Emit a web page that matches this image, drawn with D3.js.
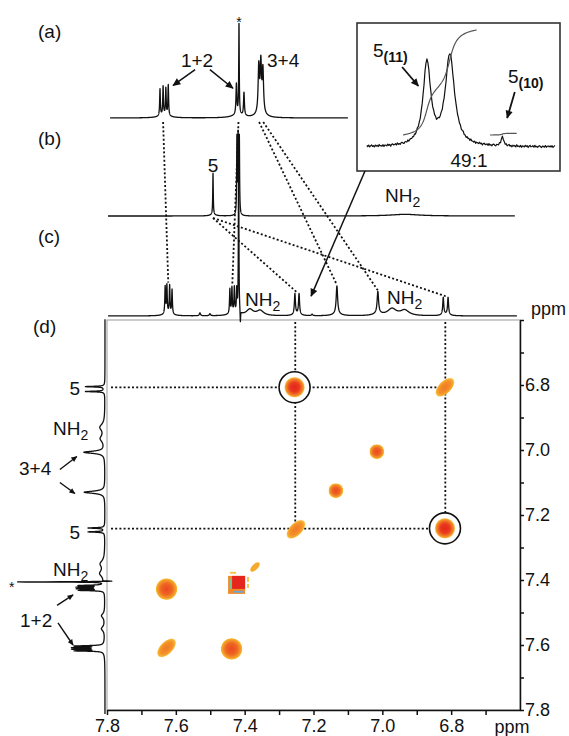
<!DOCTYPE html>
<html>
<head>
<meta charset="utf-8">
<script src="https://cdn.jsdelivr.net/npm/d3@7"></script>
<style>
body { margin: 0; background: #fff; }
svg { display: block; font-family: "Liberation Sans", Arial, sans-serif; }
</style>
</head>
<body>
<svg id="chart" width="569" height="736"></svg>
<script>
// ---- data ----
// 1D peak lists: [ppm, height (0-100 of the panel scale), half width in ppm]
var specA = [
  [7.646, 29, 0.0012], [7.637, 31, 0.0012], [7.629, 29, 0.0012], [7.622, 33, 0.0012], [7.633, 2.5, 0.02],
  [7.424, 33, 0.0015], [7.4165, 98, 0.0009], [7.402, 25, 0.0015], [7.42, 3, 0.02],
  [7.359, 50, 0.0022], [7.353, 52, 0.0022], [7.347, 46, 0.0022], [7.353, 4, 0.015]
];
var specB = [
  [7.492, 50, 0.0009], [7.492, 1.5, 0.01],
  [7.4155, 92, 0.0009], [7.419, 92, 0.0009], [7.4225, 92, 0.0009],
  [6.934, 2, 0.05]
];
var specC = [
  [7.631, 15, 0.0012], [7.626, 15.5, 0.0012], [7.618, 15.5, 0.0012], [7.611, 13.5, 0.0012], [7.622, 1.2, 0.015],
  [7.530, 1.6, 0.002], [7.501, 1.1, 0.002],
  [7.443, 13.5, 0.0012], [7.437, 14, 0.0012], [7.430, 14, 0.0012], [7.423, 13, 0.0012], [7.433, 1.2, 0.015],
  [7.4175, 100, 0.0008], [7.4125, -7, 0.0008],
  [7.385, 3.4, 0.012], [7.355, 2.8, 0.012],
  [7.254, 11.5, 0.0018], [7.242, 11.5, 0.0018], [7.248, 0.8, 0.012],
  [7.204, 0.8, 0.002],
  [7.132, 15.5, 0.0025], [7.132, 1, 0.015],
  [7.013, 12, 0.0025], [7.013, 1, 0.015],
  [6.972, 3.8, 0.015], [6.935, 3, 0.015],
  [6.823, 9.5, 0.0018], [6.809, 9.5, 0.0018], [6.816, 0.8, 0.012]
];
// f1 projection on the left of the 2D map
var specD = [
  [6.805, 20, 0.0012], [6.82, 20, 0.0012], [6.812, 1, 0.01],
  [6.93, 5, 0.012], [6.965, 4.5, 0.012],
  [7.007, 22, 0.004],
  [7.13, 22, 0.004],
  [7.240, 17, 0.0012], [7.252, 17, 0.0012], [7.246, 1, 0.01],
  [7.35, 4.5, 0.012], [7.38, 5, 0.012],
  [7.406, 92, 0.0006], [7.4035, -14, 0.0006],
  [7.417, 26, 0.0012], [7.422, 27, 0.0012], [7.427, 27, 0.0012], [7.432, 26, 0.0012],
  [7.51, 3.5, 0.008], [7.55, 3.5, 0.008],
  [7.603, 29, 0.0012], [7.608, 30, 0.0012], [7.613, 30, 0.0012], [7.618, 29, 0.0012], [7.61, 2, 0.015]
];
var rangeA = [7.791, 7.100];
var rangeB = [7.797, 6.615];
var rangeC = [7.797, 6.609];
var rangeD = [6.598, 7.812];

// inset (expanded region, ratio 49:1)
var insetPeaks = [[7.252, 83, 0.0048], [7.228, 91, 0.0058], [7.173, 9, 0.0016]];
var insetRange = [7.315, 7.118];
var insetNoise = [0.6, -0.4, 0.9, -0.8, 0.2, 1.1, -0.5, 0.3, -1.0, 0.7, -0.2, 0.5, -0.9, 1.2, -0.3, 0.1,
  -0.7, 0.8, -1.1, 0.4, 0.0, -0.6, 1.0, -0.2, 0.6, -1.2, 0.3, 0.9, -0.4, -0.1, 0.7, -0.8,
  1.1, -0.5, 0.2, -0.9, 0.5, 0.8, -0.3, -1.0, 0.4, 0.1, -0.6, 1.0, -0.7, 0.3, 0.6, -0.2];
var integralMain = [7.277, 7.200];
var integralMinor = [7.186, 7.158];

// links between spectra: [from panel, from ppm, to ppm in (c)]
var links = [
  ["a", 7.637, 7.622], ["a", 7.418, 7.436], ["a", 7.358, 7.132], ["a", 7.346, 7.013],
  ["b", 7.492, 7.248], ["b", 7.492, 6.816]
];

// 2D peaks [f2 ppm, f1 ppm]
var crossPeaks = [[7.255, 6.807], [6.818, 7.241], [7.627, 7.428], [7.438, 7.612]];
var diagPeaks = [
  [6.818, 6.807, "elong"], [7.016, 7.005, "square"], [7.135, 7.125, "square"],
  [7.251, 7.244, "elong"], [7.370, 7.360, "small"], [7.422, 7.412, "sat"], [7.627, 7.609, "elong"]
];
var circled = [[7.255, 6.807], [6.818, 7.241]];
var guideF2 = [7.253, 6.817];
var guideF1 = [6.807, 7.242];

var xTicks = [7.8, 7.7, 7.6, 7.5, 7.4, 7.3, 7.2, 7.1, 7.0, 6.9, 6.8, 6.7];
var yTicks = [6.6, 6.7, 6.8, 6.9, 7.0, 7.1, 7.2, 7.3, 7.4, 7.5, 7.6, 7.7, 7.8];
var tickLabels = ["7.8", "7.6", "7.4", "7.2", "7.0", "6.8"];

// ---- scales ----
var x = d3.scaleLinear().domain([7.8, 6.6]).range([107, 520]);
var y = d3.scaleLinear().domain([6.6, 7.8]).range([320, 710]);
var yA = d3.scaleLinear().domain([0, 100]).range([118, 25]);
var yB = d3.scaleLinear().domain([0, 100]).range([216, 133]);
var yC = d3.scaleLinear().domain([0, 100]).range([316, 135]);
var xD = d3.scaleLinear().domain([0, 100]).range([105, 11]);
var xI = d3.scaleLinear().domain([7.32, 7.12]).range([362, 553]);
var yI = d3.scaleLinear().domain([0, 100]).range([147, 47]);

function lorentz(peaks, d) {
  var s = 0;
  peaks.forEach(function(p) { var u = (d - p[0]) / p[2]; s += p[1] / (1 + u * u); });
  return s;
}
function trace(peaks, r, step) {
  var lo = Math.min(r[0], r[1]), hi = Math.max(r[0], r[1]);
  var n = Math.round((hi - lo) / step), pts = [];
  for (var i = 0; i <= n; i++) { var d = hi - i * (hi - lo) / n; pts.push([d, lorentz(peaks, d)]); }
  return pts;
}
function topNear(pts, ppm, win) {
  return d3.max(pts.filter(function(p) { return Math.abs(p[0] - ppm) < win; }), function(p) { return p[1]; });
}

var svg = d3.select("#chart");
var defs = svg.append("defs");
function grad(id, stops) {
  var gr = defs.append("radialGradient").attr("id", id);
  stops.forEach(function(s) {
    gr.append("stop").attr("offset", s[0]).attr("stop-color", s[1]).attr("stop-opacity", s[2] == null ? 1 : s[2]);
  });
}
grad("hot", [[0, "#e4261b"], [0.45, "#e93a1e"], [0.72, "#f07525"], [0.88, "#f5a22c"], [1, "#fbd25a", 0.25]]);
grad("warm", [[0, "#ea4a20"], [0.5, "#ee6423"], [0.8, "#f39729"], [0.93, "#f7b533"], [1, "#fcd96a", 0.25]]);
grad("soft", [[0, "#f17a26"], [0.6, "#f38f29"], [0.88, "#f7b233"], [1, "#fbd35c", 0.25]]);
function marker(id, w, h) {
  defs.append("marker").attr("id", id).attr("viewBox", "0 0 10 10").attr("refX", 9).attr("refY", 5)
    .attr("markerWidth", w).attr("markerHeight", h).attr("markerUnits", "userSpaceOnUse").attr("orient", "auto")
    .append("path").attr("d", "M0,0.5 L10,5 L0,9.5 Z").attr("fill", "#111");
}
marker("ah", 9, 8);
marker("ahs", 7, 6);

function arrow(p0, p1, w, small) {
  svg.append("line").attr("x1", p0[0]).attr("y1", p0[1]).attr("x2", p1[0]).attr("y2", p1[1])
    .attr("stroke", "#111").attr("stroke-width", w || 1.5).attr("marker-end", small ? "url(#ahs)" : "url(#ah)");
}
function label(px, py, main, sub, opt) {
  opt = opt || {};
  var t = svg.append("text").attr("x", px).attr("y", py).attr("font-size", opt.size || 19)
    .attr("fill", "#111").attr("text-anchor", opt.anchor || "start").text(main);
  if (sub) t.append("tspan").attr("dy", opt.subDy || 5).attr("font-size", opt.subSize || 14)
    .attr("font-weight", opt.bold ? "bold" : null).text(sub);
  return t;
}
var lineStyle = function(sel, w) { return sel.attr("fill", "none").attr("stroke", "#111").attr("stroke-width", w || 1.3).attr("stroke-linejoin", "round"); };

// ---- 2D map ----
svg.append("rect").attr("x", x(7.8)).attr("y", y(6.6)).attr("width", x(6.6) - x(7.8)).attr("height", y(7.8) - y(6.6))
  .attr("fill", "none").attr("stroke", "#9a9a9a").attr("stroke-width", 1);

var dots = { "stroke": "#111", "stroke-width": 1.8, "stroke-dasharray": "2,2.2" };
function dotted(x1, y1, x2, y2) {
  var l = svg.append("line").attr("x1", x1).attr("y1", y1).attr("x2", x2).attr("y2", y2);
  Object.keys(dots).forEach(function(k) { l.attr(k, dots[k]); });
}
guideF2.forEach(function(p) { dotted(x(p), y(6.6) + 2, x(p), y(guideF1[1])); });
guideF1.forEach(function(p) { dotted(x(7.8) + 4, y(p), x(guideF2[1]), y(p)); });

svg.selectAll(".ring").data(circled).enter().append("circle").attr("class", "ring")
  .attr("cx", function(d) { return x(d[0]); }).attr("cy", function(d) { return y(d[1]); })
  .attr("r", 15.5).attr("fill", "#fff").attr("stroke", "#111").attr("stroke-width", 1.6);

svg.selectAll(".xpk").data(crossPeaks).enter().append("circle").attr("class", "xpk")
  .attr("cx", function(d) { return x(d[0]); }).attr("cy", function(d) { return y(d[1]); })
  .attr("r", function(d, i) { return i < 2 ? 10.5 : 11; })
  .attr("fill", function(d, i) { return i < 2 ? "url(#hot)" : "url(#warm)"; });

diagPeaks.forEach(function(d) {
  var cx = x(d[0]), cy = y(d[1]);
  if (d[2] === "elong") {
    svg.append("ellipse").attr("cx", cx).attr("cy", cy).attr("rx", 12).attr("ry", 6.5)
      .attr("transform", "rotate(-45," + cx + "," + cy + ")").attr("fill", "url(#soft)");
  } else if (d[2] === "square") {
    svg.append("rect").attr("x", cx - 7.5).attr("y", cy - 7.5).attr("width", 15).attr("height", 15).attr("rx", 5)
      .attr("fill", "url(#warm)");
  } else if (d[2] === "small") {
    svg.append("ellipse").attr("cx", cx).attr("cy", cy).attr("rx", 6).attr("ry", 2.8)
      .attr("transform", "rotate(-45," + cx + "," + cy + ")").attr("fill", "#f6aa2c");
  } else {
    svg.append("rect").attr("x", cx - 9).attr("y", cy - 8).attr("width", 17).attr("height", 18).attr("fill", "#f08a2a");
    svg.append("rect").attr("x", cx - 5).attr("y", cy - 8).attr("width", 13).attr("height", 13).attr("fill", "#e4261c");
    svg.append("rect").attr("x", cx - 7.5).attr("y", cy - 5).attr("width", 2).attr("height", 10).attr("fill", "#7cc492");
    svg.append("rect").attr("x", cx - 4).attr("y", cy + 7).attr("width", 10).attr("height", 1.8).attr("fill", "#6aa8da");
    svg.append("rect").attr("x", cx - 7).attr("y", cy - 12).attr("width", 6).attr("height", 1.8).attr("fill", "#f7c13a");
    svg.append("rect").attr("x", cx + 10).attr("y", cy - 7).attr("width", 1.8).attr("height", 5).attr("fill", "#f7c13a");
    svg.append("rect").attr("x", cx + 10).attr("y", cy).attr("width", 1.8).attr("height", 4).attr("fill", "#f7c13a");
  }
});

// axes
function tickFmt(d) { var s = d3.format(".1f")(d); return tickLabels.indexOf(s) >= 0 ? s : ""; }
var gx = svg.append("g").attr("transform", "translate(0," + y(7.8) + ")")
  .call(d3.axisBottom(x).tickValues(xTicks).tickSize(5).tickSizeOuter(0).tickPadding(4).tickFormat(tickFmt));
var gy = svg.append("g").attr("transform", "translate(" + x(6.6) + ",0)")
  .call(d3.axisRight(y).tickValues(yTicks).tickSize(4).tickSizeOuter(0).tickPadding(1).tickFormat(tickFmt));
[gx, gy].forEach(function(g) {
  g.attr("font-family", null).attr("font-size", 18);
  g.selectAll("path,line").attr("stroke", "#111").attr("stroke-width", 1.5);
  g.selectAll("text").attr("fill", "#111");
});
label(512, 733, "ppm", null, { anchor: "middle", size: 18 });
label(531, 315, "ppm", null, { size: 18 });

// ---- 1D spectra ----
var ptsA = trace(specA, rangeA, 0.0002);
var ptsB = trace(specB, rangeB, 0.0002);
var ptsC = trace(specC, rangeC, 0.0002);
var ptsD = trace(specD, rangeD, 0.0002);

// dotted links first so the traces sit on top
links.forEach(function(l) {
  var y0 = l[0] === "a" ? yA(0) + 4 : yB(0) + 2;
  dotted(x(l[1]), y0, x(l[2]), yC(topNear(ptsC, l[2], 0.009)) - 1);
});

lineStyle(svg.append("path").datum(ptsA).attr("d", d3.line().x(function(d) { return x(d[0]); }).y(function(d) { return yA(d[1]); })));
lineStyle(svg.append("path").datum(ptsB).attr("d", d3.line().x(function(d) { return x(d[0]); }).y(function(d) { return yB(d[1]); })));
lineStyle(svg.append("path").datum(ptsC).attr("d", d3.line().x(function(d) { return x(d[0]); }).y(function(d) { return yC(d[1]); })));
lineStyle(svg.append("path").datum(ptsD).attr("d", d3.line().x(function(d) { return xD(d[1]); }).y(function(d) { return y(d[0]); })));

// ---- inset ----
svg.append("rect").attr("x", 357).attr("y", 23).attr("width", 203).attr("height", 148)
  .attr("fill", "#fff").attr("stroke", "#333").attr("stroke-width", 1.6);
var ptsI = trace(insetPeaks, insetRange, 0.001).map(function(p, i) { return [p[0], p[1] + insetNoise[i % insetNoise.length]]; });
lineStyle(svg.append("path").datum(ptsI).attr("d", d3.line().x(function(d) { return xI(d[0]); }).y(function(d) { return yI(d[1]); })), 1.2);

function cumulative(peaks, r, step) {
  var pts = trace(peaks, r, step), s = 0;
  return pts.map(function(p) { s += p[1] * step; return [p[0], s]; });
}
var cumMain = cumulative(insetPeaks.slice(0, 2), integralMain, 0.0005);
var norm = 105 / cumMain[cumMain.length - 1][1];
var cumMinor = cumulative(insetPeaks.slice(2), integralMinor, 0.0005);
var intLine = d3.line().x(function(d) { return xI(d[0]); }).y(function(d) { return yI(12 + d[1] * norm); });
svg.append("path").datum(cumMain).attr("d", intLine).attr("fill", "none").attr("stroke", "#555").attr("stroke-width", 1.2);
svg.append("path").datum(cumMinor).attr("d", intLine).attr("fill", "none").attr("stroke", "#555").attr("stroke-width", 1.2);

label(373, 57, "5", "(11)", { bold: true });
arrow([xI(7.278), yI(80)], [xI(7.261), yI(61)], 1.8);
label(508, 83, "5", "(10)", { bold: true });
arrow([xI(7.160), yI(55)], [xI(7.168), yI(29)], 1.8);
label(469, 167, "49:1", null, { anchor: "middle" });

// arrow from inset down to trace (c)
arrow([365, 171], [x(7.207), yC(11)], 1.5);

// ---- labels ----
label(38, 38, "(a)");
label(38, 145, "(b)");
label(38, 243, "(c)");
label(33, 333, "(d)");

label(239, 27, "*", null, { anchor: "middle", size: 14 });
label(197, 67, "1+2", null, { anchor: "middle" });
arrow([x(7.544), yA(52)], [x(7.608), yA(35)]);
arrow([x(7.501), yA(52)], [x(7.434), yA(32)]);
label(267, 67, "3+4");

label(x(7.492), 172, "5", null, { anchor: "middle" });
label(385, 202, "NH", "2");
label(245, 306, "NH", "2");
label(387, 304, "NH", "2");

label(80, 395, "5", null, { anchor: "end" });
label(53, 435, "NH", "2");
label(19, 475, "3+4");
arrow([xD(48), y(7.060)], [xD(30), y(7.020)], 1.4, true);
arrow([xD(48), y(7.100)], [xD(32), y(7.134)], 1.4, true);
label(80, 539, "5", null, { anchor: "end" });
label(53, 576, "NH", "2");
label(9, 592, "*", null, { size: 14 });
label(20, 627, "1+2");
arrow([xD(51), y(7.478)], [xD(34), y(7.446)], 1.4, true);
arrow([xD(50), y(7.532)], [xD(34), y(7.600)], 1.4, true);
</script>
</body>
</html>
